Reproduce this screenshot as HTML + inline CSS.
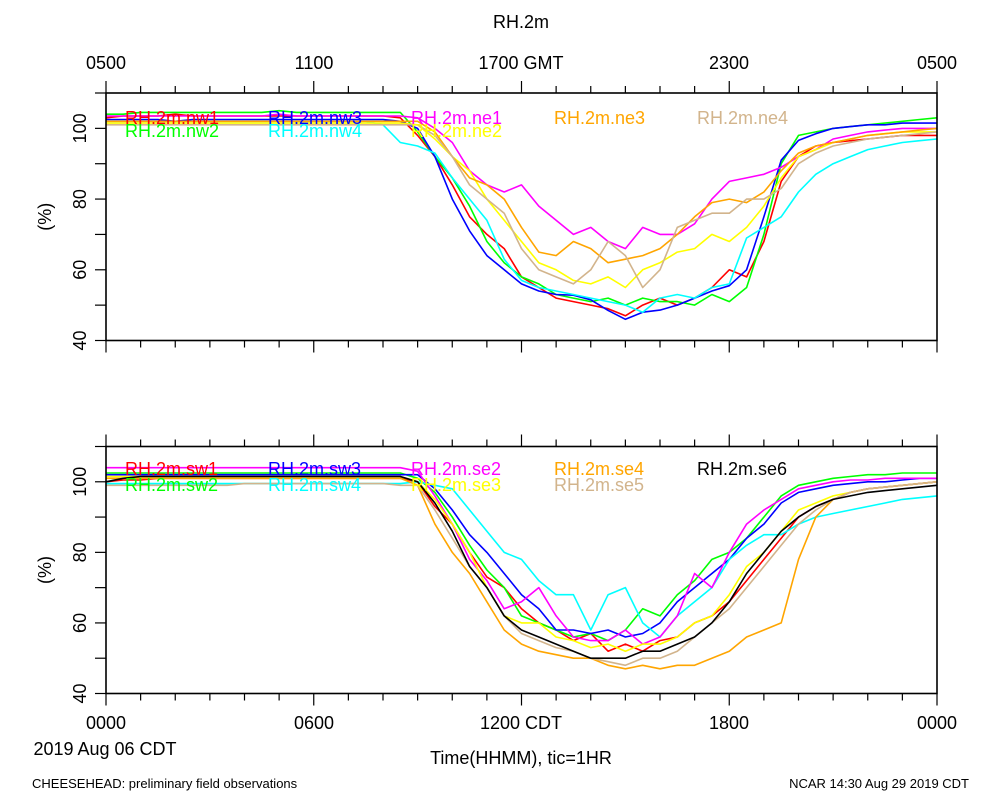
<!DOCTYPE html>
<html><head><meta charset="utf-8"><style>
html,body{margin:0;padding:0;background:#fff;}
svg{display:block;font-family:"Liberation Sans",Arial,sans-serif;}
</style></head><body>
<svg id="chart" width="1000" height="800" viewBox="0 0 1000 800" xmlns="http://www.w3.org/2000/svg">
<text x="521" y="28" font-size="18" text-anchor="middle">RH.2m</text>
<g id="top-axis-labels" font-size="18" text-anchor="middle">
<text x="106" y="69">0500</text>
<text x="314" y="69">1100</text>
<text x="521" y="69">1700 GMT</text>
<text x="729" y="69">2300</text>
<text x="937" y="69">0500</text>
</g>
<g id="bottom-axis-labels" font-size="18" text-anchor="middle">
<text x="106" y="729">0000</text>
<text x="314" y="729">0600</text>
<text x="521" y="729">1200 CDT</text>
<text x="729" y="729">1800</text>
<text x="937" y="729">0000</text>
</g>
<text x="105" y="755" font-size="18" text-anchor="middle">2019 Aug 06 CDT</text>
<text x="521" y="764" font-size="18" text-anchor="middle">Time(HHMM), tic=1HR</text>
<text x="32" y="788" font-size="13">CHEESEHEAD: preliminary field observations</text>
<text x="969" y="788" font-size="13" text-anchor="end">NCAR 14:30 Aug 29 2019 CDT</text>
</svg>
<script>
const hours = [0,0.5,1,1.5,2,2.5,3,3.5,4,4.5,5,5.5,6,6.5,7,7.5,8,8.5,9,9.5,10,10.5,11,11.5,12,12.5,13,13.5,14,14.5,15,15.5,16,16.5,17,17.5,18,18.5,19,19.5,20,20.5,21,21.5,22,22.5,23,23.5,24];
const yTicks = [40,60,80,100];
const topNames = ["RH.2m.nw1","RH.2m.nw2","RH.2m.nw3","RH.2m.nw4","RH.2m.ne1","RH.2m.ne2","RH.2m.ne3","RH.2m.ne4"];
const botNames = ["RH.2m.sw1","RH.2m.sw2","RH.2m.sw3","RH.2m.sw4","RH.2m.se2","RH.2m.se3","RH.2m.se4","RH.2m.se5","RH.2m.se6"];
const nw1 = [103,103.5,103.5,103.5,104,103.5,103.5,103.5,103.5,103.5,103.5,103.5,103.5,103.5,103.5,103.5,103.5,103, 98,92,84,75,70,66,58,55,52,51,50,49,47,50,52,50,52,55,60,58,68,85, 92,95,96,96.5,97,97.5,98,98,98];
const nw2 = [104,104,104.5,104.5,104.5,104.5,104.5,104.5,104.5,104.5,105,104.5,104.5,104.5,104.5,104.5,104.5,104.5, 99,92,86,78,68,62,58,56,53,52,51,52,50,52,51,51,50,53,51,55,70,90, 98,99,100,100.5,101,101.5,102,102.5,103];
const nw3 = [102.5,102.5,102.5,102.5,102,102.5,102.5,102.5,102.5,102.5,102.5,102.5,102.5,102.5,102.5,102.5,102.5,102, 100,92,80,71,64,60,56,54,53,52.8,51.5,48.5,46,48,48.6,50,52,54,55.5,60,75,91, 96.6,98.5,100,100.5,101,101,101.5,101.5,101.5];
const nw4 = [102,102,102,102,102,102,102,102,102,102,102,102,102,102,102,102,101,96, 95,93,86,80,74,63,57,55,54,53,52,51,50,48,52,53,52,55,56,69,72,75, 82,87,90,92,94,95,96,96.5,97];
const ne1 = [103.5,103.5,103.5,103.5,103.5,103.5,103.5,103.5,103.5,103.5,104,103.5,103.5,103.5,103.5,103.5,103.5,103.5, 103,100,96,88,84,82,84,78,74,70,72,68,66,72,70,70,73,80,85,86,87,89, 92,94,97,98,99,99.5,100,100,100];
const ne2 = [101.5,101.5,101.5,101.5,101.5,101.5,101.5,101.5,101.5,101.5,101.5,101.5,101.5,101.5,101.5,101.5,101.5,101.5, 101,97,92,88,80,74,68,62,60,57,56,58,55,60,62,65,66,70,68,72,78,86, 92,94,96,97,98,98.5,99,99,99];
const ne3 = [102,102,102,102,102,102,102,102,102,102,102,102,102,102,102,102,102,102, 102,99,92,86,84,80,72,65,64,68,66,62,63,64,66,70,75,79,80,79,82,88, 93,95,96,97,98,98.5,99,99.5,100];
const ne4 = [101,101,101,101,101,101,101,101,101,101,101,101,101,101,101,101,101,101, 101,98,92,84,80,76,66,60,58,56,60,68,64,55,60,72,74,76,76,80,80,83, 90,93,95,96,97,97.5,98,98.5,99];
const sw1 = [100,100.5,100.5,101,101,101,101,101,101,101,101,101,101,101,101,101,101,101, 100,93,88,80,73,70,64,60,58,55,57,52,54,52,55,56,60,62,66,72,78,84, 90,93,95,97,98,98.5,99,99.5,100];
const sw2 = [102.5,102.5,102.5,102.5,102.5,102.5,102.5,102.5,102.5,102.5,102.5,102.5,102.5,102.5,102.5,102.5,102.5,102.5, 101,97,90,82,75,70,62,60,58,56,57,55,58,64,62,68,72,78,80,84,90,96, 99,100,101,101.5,102,102,102.5,102.5,102.5];
const sw3 = [102,102,102,102,102,102,102,102,102,102,102,102,102,102,102,102,102,102, 102,98,92,85,80,74,68,64,58,58,57,58,56,57,60,66,70,74,78,84,88,94, 97,98,99,99.5,100,100,100.5,101,101];
const sw4 = [99.5,99.5,99.5,99.5,99.5,99.5,99.5,99.5,99.5,99.5,99.5,99.5,99.5,99.5,99.5,99.5,99.5,99.5, 100,99,98,92,86,80,78,72,68,68,58,68,70,60,56,62,66,70,78,82,85,85, 88,90,91,92,93,94,95,95.5,96];
const se2 = [104,104,104,104,104,104,104,104,104,104,104,104,104,104,104,104,104,104, 103,96,88,78,72,64,66,70,62,56,55,55,58,54,56,62,74,70,80,88,92,95, 98,99,100,100.5,100.5,101,101,101,101];
const se3 = [101.5,101.5,101.5,101.5,101.5,101.5,101.5,101.5,101.5,101.5,101.5,101.5,101.5,101.5,101.5,101.5,101.5,101.5, 100,95,88,80,70,62,60,60,56,55,53,54,52,54,54,56,60,62,68,76,80,86, 92,94,96,97,98,98.5,99,99.5,100];
const se4 = [101,101,101,101,101,101,101,101,101,101,101,101,101,101,101,101,101,101, 99,88,80,74,66,58,54,52,51,50,50,48,47,48,47,48,48,50,52,56,58,60, 78,90,95,97,98,98.5,99,99.5,100];
const se5 = [99,99,99,99,99,99,99,99,99.5,99.5,99.5,99.5,99.5,99.5,99.5,99.5,99.5,99, 99,92,84,76,70,62,57,55,53,52,50,49,48,50,50,52,56,60,64,70,76,82, 88,92,95,97,98,98.5,99,99.5,100];
const se6 = [100,101,101.5,101.5,101.5,101.5,101.5,101.5,101.5,101.5,101.5,101.5,101.5,101.5,101.5,101.5,101.5,101.5, 100,94,86,76,70,62,58,56,54,52,50,50,50,52,52,54,56,60,66,74,80,86, 90,93,95,96,97,97.5,98,98.5,99];

const svg = document.getElementById('chart');
const NS = 'http://www.w3.org/2000/svg';
const X0 = 106, X1 = 937;
function xs(h){ return X0 + (X1 - X0) * h / 24; }
function mk(tag, attrs){ const e = document.createElementNS(NS, tag); for (const k in attrs) e.setAttribute(k, attrs[k]); svg.appendChild(e); return e; }

function panel(top, bottom, series, names, colors, legendPos, pname){
  const ys = v => bottom - (v - 40) * (bottom - top) / 70;
  const g = mk('g', {});
  
  
  // series
  series.forEach((s, i) => {
    let d = '';
    s.forEach((v, j) => { d += (j ? 'L' : 'M') + xs(hours[j]).toFixed(1) + ' ' + ys(v).toFixed(1); });
    const p = mk('path', {d: d, fill: 'none', stroke: colors[i], 'stroke-width': 1.6, 'stroke-linejoin': 'round'});
    
    
  });
  // frame
  const r = mk('rect', {x: X0, y: top, width: X1 - X0, height: bottom - top, fill: 'none', stroke: '#000', 'stroke-width': 1.6});
  
  
  // x ticks
  for (let h = 0; h <= 24; h++) {
    const len = (h % 6 === 0) ? 12 : 7;
    const x = xs(h);
    const t1 = mk('line', {x1: x, x2: x, y1: top, y2: top - len, stroke: '#000', 'stroke-width': 1.2});
    
    
    const t2 = mk('line', {x1: x, x2: x, y1: bottom, y2: bottom + len, stroke: '#000', 'stroke-width': 1.2});
    
    
  }
  // y ticks
  for (let v = 40; v <= 110; v += 10) {
    const y = ys(v);
    const t = mk('line', {x1: X0, x2: X0 - 11, y1: y, y2: y, stroke: '#000', 'stroke-width': 1.2});
    
    
  }
  yTicks.forEach(v => {
    const y = ys(v);
    const t = mk('text', {x: 0, y: 0, 'font-size': 18, 'text-anchor': 'middle', transform: 'translate(86 ' + y + ') rotate(-90)'});
    t.textContent = v;
    
    
  });
  const yt = mk('text', {x: 0, y: 0, 'font-size': 18, 'text-anchor': 'middle', transform: 'translate(51 ' + ((top + bottom) / 2) + ') rotate(-90)'});
  yt.textContent = '(%)';
  
  
  // legend
  names.forEach((n, i) => {
    const t = mk('text', {x: legendPos[i][0], y: legendPos[i][1], 'font-size': 18, fill: colors[i]});
    t.textContent = n;
    
    
  });
}
const topColors = ['#ff0000','#00ff00','#0000ff','#00ffff','#ff00ff','#ffff00','#ffa500','#d2b48c'];
const botColors = ['#ff0000','#00ff00','#0000ff','#00ffff','#ff00ff','#ffff00','#ffa500','#d2b48c','#000000'];
const r1 = 124, r2 = 137, b1 = 475, b2 = 491;
panel(93, 340.5, [nw1,nw2,nw3,nw4,ne1,ne2,ne3,ne4], topNames, topColors,
  [[125,r1],[125,r2],[268,r1],[268,r2],[411,r1],[411,r2],[554,r1],[697,r1]], 'top-panel');
panel(446.5, 693.5, [sw1,sw2,sw3,sw4,se2,se3,se4,se5,se6], botNames, botColors,
  [[125,b1],[125,b2],[268,b1],[268,b2],[411,b1],[411,b2],[554,b1],[554,b2],[697,b1]], 'bottom-panel');
</script>
</body></html>
